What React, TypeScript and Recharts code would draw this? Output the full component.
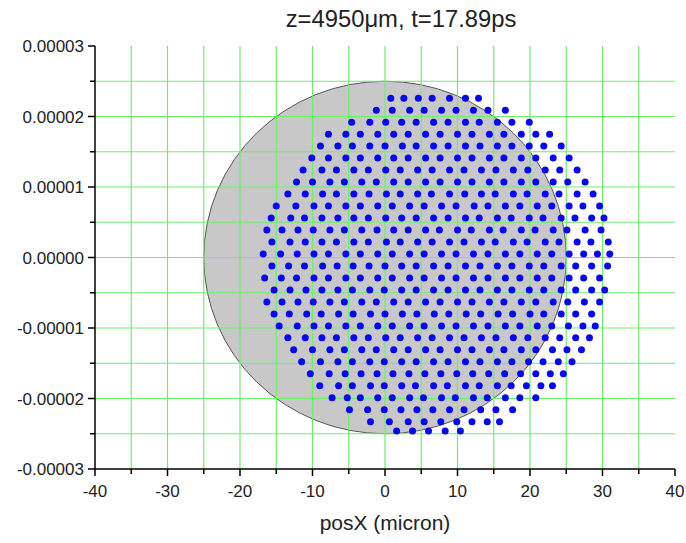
import React from "react";
import {
  ScatterChart,
  Scatter,
  XAxis,
  YAxis,
  ReferenceArea,
  ReferenceLine,
} from "recharts";

const TITLE = "z=4950\u03bcm, t=17.89ps";
const X_LABEL = "posX (micron)";

const X_TICKS = [-40, -35, -30, -25, -20, -15, -10, -5, 0, 5, 10, 15, 20, 25, 30, 35, 40];
const Y_TICKS = [
  -0.00003, -0.000025, -0.00002, -0.000015, -0.00001, -0.000005, 0,
  0.000005, 0.00001, 0.000015, 0.00002, 0.000025, 0.00003,
];
const GRID_X = [-35, -30, -25, -20, -15, -10, -5, 0, 5, 10, 15, 20, 25, 30, 35];
const GRID_Y = [
  -0.000025, -0.00002, -0.000015, -0.00001, -0.000005, 0,
  0.000005, 0.00001, 0.000015, 0.00002, 0.000025,
];

// grey disc (reference beam), x in micron, y in metres
const DISC_X = [-25, 25];
const DISC_Y = [-0.000025, 0.000025];

// particle rows: y of each row (metres) and the x positions (micron) in it
const ROW_Y = [
  2.26e-5, 2.09e-5, 1.92e-5, 1.75e-5, 1.58e-5, 1.41e-5, 1.24e-5, 1.07e-5,
  0.9e-5, 0.73e-5, 0.56e-5, 0.39e-5, 0.22e-5, 0.05e-5, -0.12e-5, -0.29e-5,
  -0.46e-5, -0.63e-5, -0.8e-5, -0.97e-5, -1.14e-5, -1.31e-5, -1.48e-5,
  -1.65e-5, -1.82e-5, -1.99e-5, -2.16e-5, -2.33e-5, -2.46e-5,
];
const ROW_X = [
  [0.8, 2.6, 4.6, 6.5, 8.9, 11.1, 12.9],
  [-1.2, 1.0, 3.4, 5.4, 7.8, 9.8, 12.2, 14.2, 16.6],
  [-4.6, -2.1, 0.1, 2.3, 4.3, 6.7, 8.7, 11.1, 13.0, 15.5, 17.5, 19.9],
  [-7.8, -5.4, -3.4, -1.0, 1.2, 3.2, 5.6, 7.6, 10.0, 12.0, 14.4, 16.4, 18.8, 20.8, 22.7],
  [-8.9, -6.5, -4.5, -2.1, 0.0, 2.4, 4.3, 6.7, 8.7, 11.1, 13.1, 15.5, 17.5, 19.9, 21.9, 24.3],
  [-10.1, -7.8, -5.4, -3.4, -1.0, 1.2, 3.2, 5.6, 7.6, 10.0, 12.0, 14.4, 16.4, 18.8, 20.8, 23.2, 25.4],
  [-11.3, -8.7, -6.7, -4.3, -2.3, 0.1, 2.1, 4.5, 6.5, 8.9, 10.9, 13.3, 15.3, 17.7, 19.7, 22.1, 24.1, 26.5],
  [-12.2, -10.0, -7.6, -5.6, -3.2, -1.2, 1.2, 3.2, 5.6, 7.6, 10.0, 12.0, 14.4, 16.4, 18.8, 20.8, 23.2, 25.2, 27.6],
  [-13.4, -11.0, -8.6, -6.7, -4.3, -2.2, 0.2, 2.1, 4.5, 6.4, 8.9, 11.0, 13.3, 15.2, 17.7, 19.6, 22.1, 24.0, 26.5, 28.7],
  [-15.0, -12.3, -9.8, -7.8, -5.4, -3.4, -1.0, 1.0, 3.4, 5.4, 7.8, 9.8, 12.3, 14.2, 16.6, 18.6, 21.0, 23.0, 25.4, 27.3, 29.6],
  [-15.7, -13.0, -11.1, -8.7, -6.5, -4.3, -2.3, 0.1, 2.3, 4.3, 6.7, 8.7, 11.1, 13.0, 15.5, 17.4, 19.9, 21.8, 24.3, 26.2, 28.5, 30.2],
  [-16.3, -14.2, -12.0, -9.9, -7.6, -5.6, -3.2, -1.1, 1.2, 3.2, 5.6, 7.5, 10.0, 11.9, 14.4, 16.3, 18.8, 20.7, 23.2, 25.1, 27.6, 29.8],
  [-15.6, -13.1, -11.0, -8.7, -6.7, -4.3, -2.3, 0.2, 2.1, 4.5, 6.5, 8.9, 10.9, 13.3, 15.2, 17.7, 19.6, 22.1, 24.0, 26.5, 28.4, 30.8],
  [-16.8, -14.4, -12.1, -9.8, -7.8, -5.4, -3.4, -1.0, 1.0, 3.4, 5.4, 7.8, 9.8, 12.2, 14.2, 16.6, 18.6, 21.0, 23.0, 25.4, 27.4, 29.3, 31.0],
  [-15.6, -13.3, -11.1, -8.6, -6.6, -4.4, -2.2, 0.0, 2.3, 4.3, 6.7, 8.7, 11.1, 13.1, 15.5, 17.5, 19.9, 21.9, 24.3, 26.3, 28.5, 30.7],
  [-16.6, -14.3, -12.2, -9.8, -7.8, -5.4, -3.4, -1.0, 1.0, 3.4, 5.4, 7.8, 9.8, 12.2, 14.2, 16.6, 18.6, 21.0, 23.0, 25.4, 27.4, 29.6],
  [-15.3, -13.1, -10.9, -8.7, -6.5, -4.5, -2.1, -0.1, 2.3, 4.3, 6.7, 8.7, 11.1, 13.1, 15.5, 17.5, 19.9, 21.9, 24.3, 26.3, 28.5, 30.3],
  [-16.3, -14.2, -12.0, -9.9, -7.6, -5.6, -3.2, -1.2, 1.2, 3.2, 5.6, 7.6, 10.0, 12.0, 14.4, 16.4, 18.8, 20.8, 23.2, 25.2, 27.5, 29.6],
  [-15.3, -13.2, -10.8, -8.8, -6.4, -4.4, -2.0, 0.0, 2.4, 4.4, 6.8, 8.8, 11.2, 13.2, 15.6, 17.6, 20.0, 21.9, 24.3, 26.3, 28.5],
  [-14.6, -12.1, -9.8, -7.8, -5.4, -3.4, -1.0, 1.0, 3.4, 5.4, 7.8, 9.8, 12.2, 14.2, 16.6, 18.6, 21.0, 23.0, 25.3, 27.3, 29.0],
  [-13.4, -11.0, -8.7, -6.7, -4.3, -2.3, 0.1, 2.1, 4.5, 6.5, 8.9, 10.9, 13.3, 15.3, 17.7, 19.7, 22.1, 24.1, 26.3, 28.2],
  [-12.6, -10.0, -7.6, -5.6, -3.2, -1.2, 1.2, 3.2, 5.6, 7.6, 10.0, 12.0, 14.4, 16.4, 18.8, 20.8, 23.1, 25.1, 27.1],
  [-11.5, -8.9, -6.5, -4.5, -2.1, -0.1, 2.3, 4.3, 6.7, 8.7, 11.1, 13.1, 15.5, 17.5, 19.8, 21.8, 23.9, 25.8],
  [-10.3, -7.7, -5.5, -3.3, -1.1, 1.1, 3.3, 5.5, 7.7, 9.9, 12.1, 14.3, 16.5, 18.7, 20.8, 22.8, 24.6],
  [-9.0, -6.4, -4.5, -2.0, -0.1, 2.3, 4.2, 6.7, 8.6, 11.1, 13.0, 15.5, 17.4, 19.5, 21.5, 23.1],
  [-7.3, -5.2, -3.4, -1.0, 1.0, 3.4, 5.3, 7.8, 9.7, 12.2, 14.1, 16.6, 18.6, 20.8],
  [-4.9, -2.4, -0.1, 2.2, 4.4, 6.6, 8.9, 10.9, 13.2, 15.3, 17.6],
  [-2.0, 0.6, 3.2, 5.4, 7.7, 9.9, 12.0, 14.1, 15.8],
  [1.6, 3.8, 6.0, 8.3, 10.4],
];

const particles = ROW_X.flatMap((xs, i) => xs.map((x) => ({ x, y: ROW_Y[i] })));

const FONT = "'Liberation Sans', Arial, sans-serif";
const GRID_COLOR = "#6cf06c";

function isMajor(v: number, step: number) {
  const q = v / step;
  return Math.abs(q - Math.round(q)) < 1e-6;
}

function XTick(props: any) {
  const { x, y, payload } = props;
  const major = isMajor(payload.value, 10);
  return (
    <g>
      <line x1={x} x2={x} y1={y} y2={y + (major ? 7 : 5)} stroke="#000" strokeWidth={1.5} />
      {major && (
        <text x={x} y={y + 28} textAnchor="middle" fontSize={17} fontFamily={FONT} fill="#222">
          {payload.value}
        </text>
      )}
    </g>
  );
}

function YTick(props: any) {
  const { x, y, payload } = props;
  const major = isMajor(payload.value, 0.00001);
  return (
    <g>
      <line x1={x - (major ? 7 : 5)} x2={x} y1={y} y2={y} stroke="#000" strokeWidth={1.5} />
      {major && (
        <text x={x - 11} y={y + 6} textAnchor="end" fontSize={17} fontFamily={FONT} fill="#222">
          {payload.value.toFixed(5)}
        </text>
      )}
    </g>
  );
}

function Disc(props: any) {
  const { x, y, width, height } = props;
  return (
    <ellipse
      cx={x + width / 2}
      cy={y + height / 2}
      rx={width / 2}
      ry={height / 2}
      fill="#c8c8c8"
      stroke="#555"
      strokeWidth={1}
    />
  );
}

function Particle(props: any) {
  return <circle cx={props.cx} cy={props.cy} r={3.5} fill="#0808f0" />;
}

export default function App() {
  return (
    <div style={{ position: "absolute", left: 0, top: 0, width: 686, height: 543, background: "#fff" }}>
      <div
        style={{
          position: "absolute",
          left: 0,
          top: 5,
          width: 802,
          textAlign: "center",
          fontFamily: FONT,
          fontSize: 23.8,
          color: "#222",
        }}
      >
        {TITLE}
      </div>
      <ScatterChart width={686} height={543} margin={{ top: 46, right: 11, bottom: 0, left: 0 }}>
        <XAxis
          type="number"
          dataKey="x"
          domain={[-40, 40]}
          ticks={X_TICKS}
          allowDataOverflow
          interval={0}
          height={74}
          tickSize={0}
          tickMargin={0}
          tick={<XTick />}
          tickLine={false}
          axisLine={{ stroke: "#000", strokeWidth: 1.5 }}
          label={{ value: X_LABEL, position: "insideBottom", offset: 13, fontSize: 21, fontFamily: FONT, fill: "#222" }}
        />
        <YAxis
          type="number"
          dataKey="y"
          domain={[-0.00003, 0.00003]}
          ticks={Y_TICKS}
          allowDataOverflow
          interval={0}
          width={95}
          tickSize={0}
          tickMargin={0}
          tick={<YTick />}
          tickLine={false}
          axisLine={{ stroke: "#000", strokeWidth: 1.5 }}
        />
        <ReferenceArea x1={DISC_X[0]} x2={DISC_X[1]} y1={DISC_Y[0]} y2={DISC_Y[1]} shape={<Disc />} />
        {GRID_X.map((v) => (
          <ReferenceLine key={`gx${v}`} x={v} stroke={GRID_COLOR} strokeWidth={1.2} />
        ))}
        {GRID_Y.map((v) => (
          <ReferenceLine key={`gy${v}`} y={v} stroke={GRID_COLOR} strokeWidth={1.2} />
        ))}
        <Scatter data={particles} shape={<Particle />} isAnimationActive={false} />
      </ScatterChart>
    </div>
  );
}
